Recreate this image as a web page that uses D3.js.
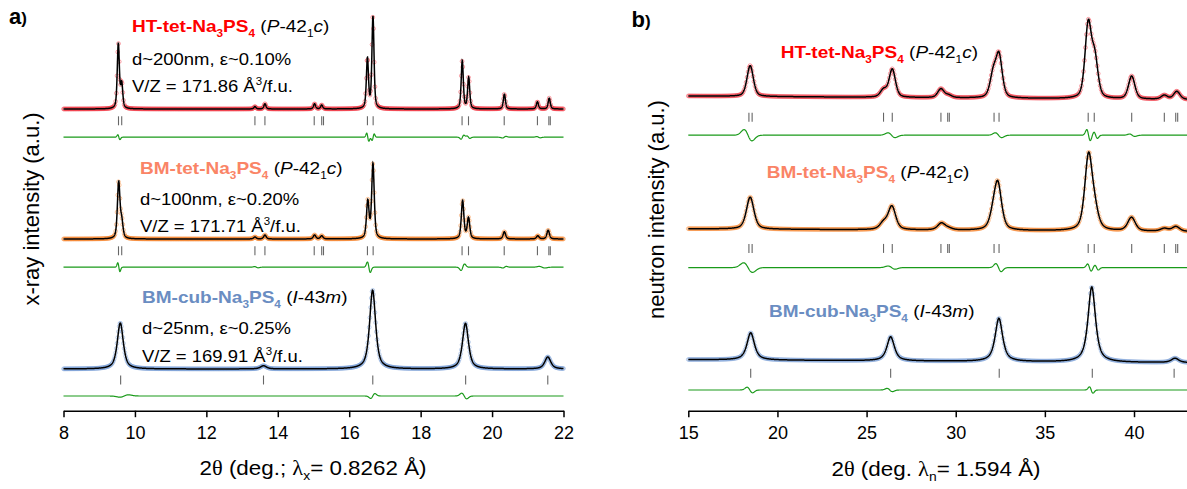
<!DOCTYPE html>
<html>
<head>
<meta charset="utf-8">
<script src="https://cdn.jsdelivr.net/npm/d3@7"></script>
<style>
  body { margin: 0; background: #fff; }
  text { font-family: "Liberation Sans", Arial, sans-serif; }
</style>
</head>
<body>
<svg id="chart" width="1187" height="489"></svg>
<script>
// ---------- data ----------
// panel a: x-ray, peaks as [2theta, height a.u.]
const xrayMajorTicks = [8, 10, 12, 14, 16, 18, 20, 22];
const xrayMinorTicks = [9, 11, 13, 15, 17, 19, 21];
const xrayHTPeaks = [[9.535, 16.2], [9.63, 6.0], [13.36, 0.6], [13.64, 1.3], [15.03, 1.3], [15.23, 1.0],
  [16.51, 12.4], [16.665, 23.0], [19.165, 12.0], [19.345, 7.8], [20.345, 3.7], [21.27, 1.8], [21.6, 2.7]];
const xrayBMtetPeaks = [[9.545, 14.0], [9.63, 4.0], [13.36, 0.5], [13.64, 1.0], [15.03, 1.0], [15.23, 0.8],
  [16.52, 9.2], [16.665, 18.6], [19.175, 9.5], [19.34, 5.2], [20.345, 1.8], [21.28, 0.8], [21.57, 2.2]];
const xrayBMcubPeaks = [[9.59, 11.5], [13.6, 0.8], [16.655, 19.7], [19.255, 11.4], [21.56, 3.0]];
const xrayTetRefl = [9.54, 9.63, 13.36, 13.64, 15.02, 15.23, 15.28, 16.51, 16.67, 19.16, 19.34, 20.34, 21.27, 21.59, 21.63];
const xrayCubRefl = [9.6, 13.6, 16.66, 19.26, 21.56];
// difference curves as [2theta, amplitude, width]
const xrayHTDiff = [[9.55, 0.6, 0.03], [16.52, 1.0, 0.03], [16.67, -0.8, 0.03], [19.17, -0.5, 0.04],
  [19.34, 0.3, 0.04], [20.34, -0.2, 0.05], [21.3, 0.15, 0.05]];
const xrayBMtetDiff = [[9.55, 1.1, 0.03], [13.4, 0.15, 0.05], [16.55, 1.3, 0.04], [19.18, -0.8, 0.05],
  [20.35, -0.2, 0.05], [21.4, 0.2, 0.08]];
const xrayBMcubDiff = [[9.7, -0.3, 0.12], [16.66, -0.6, 0.06], [19.22, 0.7, 0.07]];
const xrayBaseline = [75.25, 42.75, 10.25];   // stacking offsets (a.u.)
const xrayReflRow = [72.3, 39.8, 7.5];
const xrayDiffRow = [68.2, 35.7, 3.5];

// panel b: neutron
const neutronMajorTicks = [15, 20, 25, 30, 35, 40];
const neutronMinorTicks = [17.5, 22.5, 27.5, 32.5, 37.5, 42.5];
const neutronHTPeaks = [[18.47, 7.7], [25.95, 1.8], [26.44, 7.0], [29.17, 2.2], [29.6, 0.6], [32.1, 5.6],
  [32.43, 10.3], [37.43, 18.2], [37.8, 9.5], [39.87, 5.7], [41.7, 1.0], [42.4, 2.0]];
const neutronBMtetPeaks = [[18.47, 8.0], [25.95, 1.6], [26.42, 5.8], [29.2, 1.7], [29.6, 0.4], [32.1, 2.6],
  [32.36, 11.2], [37.45, 18.5], [37.8, 4.0], [39.86, 3.4], [41.7, 0.7], [42.35, 1.2]];
const neutronBMcubPeaks = [[18.5, 6.8], [26.35, 6.0], [32.42, 10.8], [37.63, 18.8], [42.3, 1.1]];
const neutronTetRefl = [18.4, 18.58, 25.95, 26.44, 29.17, 29.55, 29.64, 32.15, 32.43, 37.43, 37.77, 39.87, 41.7, 42.34, 42.45];
const neutronCubRefl = [18.5, 26.35, 32.44, 37.66, 42.25];
const neutronHTDiff = [[18.35, 1.4, 0.22], [26.4, 0.6, 0.2], [32.4, 0.6, 0.18], [37.45, 1.4, 0.1],
  [37.85, 0.8, 0.1], [39.9, 0.3, 0.15]];
const neutronBMtetDiff = [[18.35, 1.2, 0.25], [26.4, 0.4, 0.2], [32.4, 1.0, 0.15], [37.5, 0.9, 0.1], [37.9, 0.6, 0.1]];
const neutronBMcubDiff = [[18.45, 0.7, 0.15], [26.3, 0.4, 0.15], [37.6, 0.8, 0.1]];
const neutronBackground = [[78.5, 77.6], [45.3, 44.6], [12.6, 11.8]]; // [at 15, at 43]
const neutronReflRow = [73.2, 40.4, 9.2];
const neutronDiffRow = [68.7, 35.6, 5.0];

// ---------- styles ----------
const phaseColors = ['#ff0000', '#fa8466', '#6a8dc2'];
const obsColors = ['#f03a46', '#f5842e', '#7b9fd6'];
const diffColor = '#1a9a1a';
const textStretch = 1.12;

const svg = d3.select('#chart');
const yInt = d3.scaleLinear().domain([0, 100]).range([410, 10]);
const xA = d3.scaleLinear().domain([8, 22]).range([63.5, 563.5]);
const xB = d3.scaleLinear().domain([15, 43]).range([688.3, 1187.5]);

function profile(x, peaks, fwhm, eta) {
  let s = 0;
  for (const [p, h] of peaks) {
    const t = (x - p) / fwhm;
    const t2 = 4 * t * t;
    s += h * (eta / (1 + t2) + (1 - eta) * Math.exp(-Math.LN2 * t2));
  }
  return s;
}

function diffValue(x, feats) {
  let s = 0;
  for (const [p, a, w] of feats) {
    const t = (x - p) / w;
    s += -a * t * Math.exp(0.5 - 0.5 * t * t);
  }
  return s;
}

function drawPattern(x, pat) {
  const [x0, x1] = x.domain();
  const g = svg.append('g');
  const bg = (v) => pat.bg[0] + (pat.bg[1] - pat.bg[0]) * (v - x0) / (x1 - x0);
  const calc = d3.range(x0, x1 + pat.step / 2, pat.step)
    .map((v) => [v, bg(v) + profile(v, pat.peaks, pat.fwhm, pat.eta)]);
  const obs = d3.range(x0, x1 + pat.markStep / 2, pat.markStep)
    .map((v) => [v, bg(v) + profile(v, pat.peaks, pat.fwhm, pat.eta)]);
  const line = d3.line().x((d) => x(d[0])).y((d) => yInt(d[1]));

  g.append('g').selectAll('circle')
    .data(obs)
    .enter()
    .append('circle')
    .attr('cx', (d) => x(d[0]))
    .attr('cy', (d) => yInt(d[1]))
    .attr('r', 1.9)
    .attr('fill', 'none')
    .attr('stroke', pat.color)
    .attr('stroke-opacity', 0.55)
    .attr('stroke-width', 0.9);

  g.append('path')
    .attr('d', line(calc))
    .attr('fill', 'none')
    .attr('stroke', '#000')
    .attr('stroke-width', 1.5);

  g.append('g').selectAll('line')
    .data(pat.refl)
    .enter()
    .append('line')
    .attr('x1', (d) => x(d))
    .attr('x2', (d) => x(d))
    .attr('y1', yInt(pat.reflRow) - 4.5)
    .attr('y2', yInt(pat.reflRow) + 4.5)
    .attr('stroke', '#666')
    .attr('stroke-width', 1.1);

  const diff = d3.range(x0, x1 + pat.step / 2, pat.step)
    .map((v) => [v, pat.diffRow + diffValue(v, pat.diff)]);
  g.append('path')
    .attr('d', line(diff))
    .attr('fill', 'none')
    .attr('stroke', diffColor)
    .attr('stroke-width', 1.2);
}

const xrayPeaks = [xrayHTPeaks, xrayBMtetPeaks, xrayBMcubPeaks];
const xrayDiffs = [xrayHTDiff, xrayBMtetDiff, xrayBMcubDiff];
const xrayRefl = [xrayTetRefl, xrayTetRefl, xrayCubRefl];
const xrayFwhm = [0.07, 0.085, 0.2];
const xrayEta = [0.5, 0.5, 0.7];
xrayPeaks.forEach((peaks, i) => drawPattern(xA, {
  peaks, fwhm: xrayFwhm[i], eta: xrayEta[i], bg: [xrayBaseline[i], xrayBaseline[i]],
  refl: xrayRefl[i], reflRow: xrayReflRow[i], diff: xrayDiffs[i], diffRow: xrayDiffRow[i],
  color: obsColors[i], step: 0.004, markStep: 0.02,
}));

const neutronPeaks = [neutronHTPeaks, neutronBMtetPeaks, neutronBMcubPeaks];
const neutronDiffs = [neutronHTDiff, neutronBMtetDiff, neutronBMcubDiff];
const neutronRefl = [neutronTetRefl, neutronTetRefl, neutronCubRefl];
const neutronFwhm = [0.42, 0.5, 0.5];
const neutronEta = [0.4, 0.5, 0.75];
neutronPeaks.forEach((peaks, i) => drawPattern(xB, {
  peaks, fwhm: neutronFwhm[i], eta: neutronEta[i], bg: neutronBackground[i],
  refl: neutronRefl[i], reflRow: neutronReflRow[i], diff: neutronDiffs[i], diffRow: neutronDiffRow[i],
  color: obsColors[i], step: 0.02, markStep: 0.055,
}));

// ---------- axes ----------
function drawAxis(x, major, minor) {
  const g = svg.append('g').attr('transform', 'translate(0,410.7)');
  g.call(d3.axisBottom(x).tickValues(minor).tickSize(3.5).tickFormat('').tickSizeOuter(0));
  g.call(d3.axisBottom(x).tickValues(major).tickSize(6.5).tickPadding(9).tickSizeOuter(0));
  g.selectAll('path, line').attr('stroke', '#000').attr('stroke-width', 1.5);
  g.selectAll('text')
    .attr('font-size', 18)
    .attr('font-family', '"Liberation Sans", Arial, sans-serif')
    .attr('fill', '#000');
}
drawAxis(xA, xrayMajorTicks, xrayMinorTicks);
drawAxis(xB, neutronMajorTicks, neutronMinorTicks);

// ---------- text ----------
function richText(x, y, parts, size, anchor, sx) {
  const t = svg.append('text')
    .attr('transform', `translate(${x},${y}) scale(${sx || 1},1)`)
    .attr('font-size', size)
    .attr('text-anchor', anchor || 'start');
  let shift = 0;
  parts.forEach((p) => {
    const s = t.append('tspan').text(p.t);
    const target = p.sub ? 5 : (p.sup ? -7 : 0);
    if (target !== shift) { s.attr('dy', target - shift); shift = target; }
    if (p.sub || p.sup) s.attr('font-size', size * 0.62);
    if (p.bold) s.attr('font-weight', 'bold');
    if (p.it) s.attr('font-style', 'italic');
    if (p.serif) s.attr('font-family', '"Liberation Serif", "DejaVu Serif", serif');
    s.attr('fill', p.c || '#000');
  });
  return t;
}

function phaseLabel(x, y, prefix, color, group) {
  const parts = [
    { t: prefix + 'Na', bold: true, c: color },
    { t: '3', bold: true, c: color, sub: true },
    { t: 'PS', bold: true, c: color },
    { t: '4', bold: true, c: color, sub: true },
    { t: ' (' },
  ].concat(group);
  richText(x, y, parts, 17, 'start', textStretch);
}

const tetGroup = [{ t: 'P', it: true }, { t: '-42' }, { t: '1', sub: true }, { t: 'c', it: true }, { t: ')' }];
const cubGroup = [{ t: 'I', it: true }, { t: '-43' }, { t: 'm', it: true }, { t: ')' }];
const phaseNames = ['HT-tet-', 'BM-tet-', 'BM-cub-'];
const phaseGroups = [tetGroup, tetGroup, cubGroup];
const sizeText = ['d~200nm, ε~0.10%', 'd~100nm, ε~0.20%', 'd~25nm, ε~0.25%'];
const volumeText = ['171.86', '171.71', '169.91'];

// panel a labels
const aLabelX = [132, 140, 142];
const aLabelY = [31.7, 174, 302.7];
const aSizeY = [65, 205, 334];
const aVolY = [91.7, 231.7, 361.7];
phaseNames.forEach((n, i) => {
  phaseLabel(aLabelX[i], aLabelY[i], n, phaseColors[i], phaseGroups[i]);
  richText(aLabelX[i], aSizeY[i], [{ t: sizeText[i] }], 16.5, 'start', textStretch);
  richText(aLabelX[i], aVolY[i], [{ t: 'V/Z = ' + volumeText[i] + ' Å' }, { t: '3', sup: true }, { t: '/f.u.' }],
    16.5, 'start', textStretch);
});

// panel b labels
const bLabelX = [780.7, 766.7, 769];
const bLabelY = [58, 178, 316.7];
phaseNames.forEach((n, i) => phaseLabel(bLabelX[i], bLabelY[i], n, phaseColors[i], phaseGroups[i]));

// axis titles
richText(313, 475, [{ t: '2' }, { t: 'θ', serif: true }, { t: ' (deg.; ' }, { t: 'λ', serif: true },
  { t: 'x', sub: true }, { t: '= 0.8262 Å)' }], 20, 'middle', textStretch);
richText(936, 476, [{ t: '2' }, { t: 'θ', serif: true }, { t: ' (deg. ' }, { t: 'λ', serif: true },
  { t: 'n', sub: true }, { t: '= 1.594 Å)' }], 20, 'middle', textStretch);

svg.append('text')
  .attr('transform', 'translate(39,209) rotate(-90)')
  .attr('text-anchor', 'middle')
  .attr('font-size', 22)
  .text('x-ray intensity (a.u.)');
svg.append('text')
  .attr('transform', 'translate(664,209.5) rotate(-90)')
  .attr('text-anchor', 'middle')
  .attr('font-size', 22)
  .text('neutron intensity (a.u.)');

// panel letters
richText(9, 23.5, [{ t: 'a', bold: true }], 22).append('tspan').attr('font-size', 17).attr('font-weight', 'bold').text(')');
richText(631.5, 26.7, [{ t: 'b', bold: true }], 22).append('tspan').attr('font-size', 17).attr('font-weight', 'bold').text(')');
</script>
</body>
</html>
